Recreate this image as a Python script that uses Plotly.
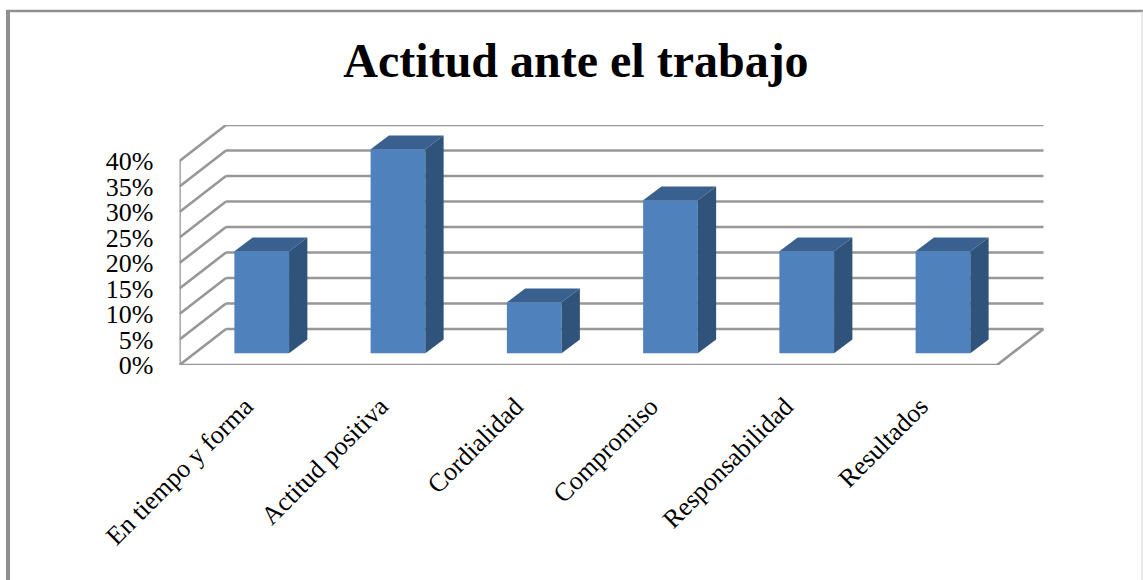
import plotly.graph_objects as go

categories = ["En tiempo y forma", "Actitud positiva", "Cordialidad", "Compromiso", "Responsabilidad", "Resultados"]
values = [20, 40, 10, 30, 20, 20]
y_ticks = [0, 5, 10, 15, 20, 25, 30, 35, 40]
title_text = "Actitud ante el trabajo"

W, H = 1143, 580
PX_L, PX_R, PX_T, PX_B = 179.5, 1044.0, 125.0, 365.0
X_UNIT = 136.25
Y_UNIT = 5.1
DEPTH_X = 46.5 / X_UNIT
DEPTH_Y = 36.0 / Y_UNIT
BAR_W = 54.7 / X_UNIT
BAR_DX = 18.3 / X_UNIT
BAR_DY = 13.7 / Y_UNIT
BAR_SHIFT_X = 14.1 / X_UNIT
BAR_BASE = 11.7 / Y_UNIT
X0 = -0.5
X1 = 5.5
GRID = "#979797"
FRONT = "#4F81BD"
TOP = "#3A6090"
SIDE = "#30537B"
FONT = "Liberation Serif"

fig = go.Figure()
idx = list(range(len(categories)))

fig.add_trace(go.Bar(x=[i + BAR_SHIFT_X for i in idx], y=values, base=BAR_BASE, width=BAR_W,
                     marker=dict(color=FRONT, line=dict(width=0)), showlegend=False, hoverinfo="skip"))

for i, v in zip(idx, values):
    xl = i + BAR_SHIFT_X - BAR_W / 2
    xr = i + BAR_SHIFT_X + BAR_W / 2
    yb = BAR_BASE
    yt = BAR_BASE + v
    fig.add_trace(go.Scatter(x=[xl, xr, xr + BAR_DX, xl + BAR_DX, xl],
                             y=[yt, yt, yt + BAR_DY, yt + BAR_DY, yt],
                             mode="lines", fill="toself", fillcolor=TOP, line=dict(width=0, color=TOP),
                             showlegend=False, hoverinfo="skip"))
    fig.add_trace(go.Scatter(x=[xr, xr + BAR_DX, xr + BAR_DX, xr, xr],
                             y=[yb, yb + BAR_DY, yt + BAR_DY, yt, yb],
                             mode="lines", fill="toself", fillcolor=SIDE, line=dict(width=0, color=SIDE),
                             showlegend=False, hoverinfo="skip"))

shapes = []
def seg(xa, ya, xb, yb):
    shapes.append(dict(type="line", xref="x", yref="y", x0=xa, y0=ya, x1=xb, y1=yb,
                       layer="below", line=dict(color=GRID, width=2.6)))

for t in y_ticks:
    seg(X0, t, X0 + DEPTH_X, t + DEPTH_Y)
    seg(X0 + DEPTH_X, t + DEPTH_Y, X1 + DEPTH_X, t + DEPTH_Y)
seg(X0, 0, X0, y_ticks[-1])
seg(X0, 0, X1, 0)
seg(X1, 0, X1 + DEPTH_X, DEPTH_Y)

# picture frame
for xa, ya, xb, yb, c, w in [(8 / W, 0, 8 / W, 1 - 10 / H, "#8F8F8F", 4),
                             (6 / W, 1 - 11 / H, 1, 1 - 11 / H, "#8F8F8F", 2.5),
                             (1142 / W, 0, 1142 / W, 1 - 11 / H, "#D0D0D0", 1)]:
    shapes.append(dict(type="line", xref="paper", yref="paper", x0=xa, y0=ya, x1=xb, y1=yb,
                       layer="below", line=dict(color=c, width=w)))

fig.update_layout(
    width=W, height=H, margin=dict(l=0, r=0, t=0, b=0, autoexpand=False),
    paper_bgcolor="white", plot_bgcolor="rgba(0,0,0,0)", showlegend=False,
    shapes=shapes,
    font=dict(family=FONT, color="black"),
    title=dict(text="<b>" + title_text + "</b>", x=576 / W, xanchor="center", xref="paper",
               y=1 - 60 / H, yanchor="middle", yref="paper",
               font=dict(family=FONT, size=48, color="black")),
    xaxis=dict(domain=[PX_L / W, PX_R / W], range=[X0, X0 + (PX_R - PX_L) / X_UNIT],
               tickmode="array", tickvals=[i * 135 / X_UNIT - 0.015 for i in idx], ticktext=categories,
               tickangle=-45,
               showgrid=False, zeroline=False, showline=False, ticks="",
               ticklabelstandoff=20, tickfont=dict(family=FONT, size=26, color="black")),
    yaxis=dict(domain=[1 - PX_B / H, 1 - PX_T / H], range=[0, (PX_B - PX_T) / Y_UNIT],
               tickmode="array", tickvals=y_ticks, ticktext=[f"{t}%" for t in y_ticks],
               showgrid=False, zeroline=False, showline=False, ticks="",
               ticklabelstandoff=25, tickfont=dict(family=FONT, size=26, color="black")),
)

fig.write_html("out.html", config=dict(displayModeBar=False),
               post_script="document.body.style.margin='0';document.body.style.overflow='hidden';")
